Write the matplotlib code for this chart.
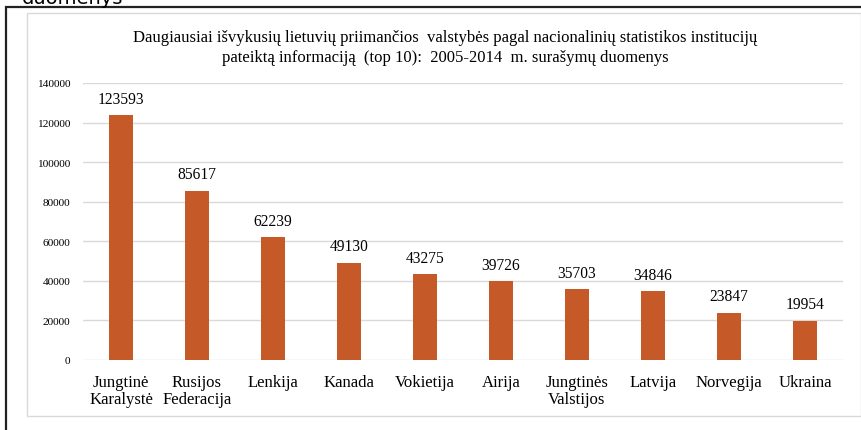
import matplotlib.pyplot as plt
from matplotlib.patches import Rectangle

# data
countries = ['Jungtinė\nKaralystė', 'Rusijos\nFederacija', 'Lenkija', 'Kanada', 'Vokietija',
             'Airija', 'Jungtinės\nValstijos', 'Latvija', 'Norvegija', 'Ukraina']
emigrants = [123593, 85617, 62239, 49130, 43275, 39726, 35703, 34846, 23847, 19954]
y_ticks = [0, 20000, 40000, 60000, 80000, 100000, 120000, 140000]

title = ('Daugiausiai išvykusių lietuvių priimančios  valstybės pagal nacionalinių statistikos institucijų\n'
         'pateiktą informaciją  (top 10):  2005-2014  m. surašymų duomenys')

bar_color = '#C55A28'
serif = 'Liberation Serif'

W, H = 862, 431
fig = plt.figure(figsize=(W / 100, H / 100), dpi=100)

# outer black frame (cut by the image edge) and inner grey chart box
fig.patches.append(Rectangle((6 / W, -0.1), 1.2, 1 - 8 / H + 0.1, transform=fig.transFigure,
                             fill=False, edgecolor='#222222', linewidth=1.6))
fig.patches.append(Rectangle((27 / W, 1 - 417 / H), (861 - 27) / W, (417 - 14) / H,
                             transform=fig.transFigure, fill=False, edgecolor='#D9D9D9', linewidth=1.0))

# cropped caption text from above the chart
fig.text(22 / W, 1 - 4 / H, 'duomenys', fontsize=14, family='DejaVu Sans', va='baseline', ha='left')

ax = fig.add_axes([83 / W, 1 - 361 / H, 760 / W, 277 / H])
x = range(len(countries))
bars = ax.bar(x, emigrants, width=0.32, color=bar_color, zorder=3)

for xi, v in zip(x, emigrants):
    ax.annotate(str(v), (xi, v), xytext=(0, 6), textcoords='offset points',
                ha='center', va='bottom', fontsize=11.2, family=serif)

ax.set_xlim(-0.5, len(countries) - 0.5)
ax.set_ylim(0, 140000)
ax.set_yticks(y_ticks)
ax.set_yticklabels([str(t) for t in y_ticks], fontsize=8.2, family=serif)
ax.set_xticks(list(x))
ax.set_xticklabels(countries, fontsize=12, family=serif, linespacing=1.12)
ax.tick_params(axis='both', length=0)
ax.tick_params(axis='y', pad=9)
ax.tick_params(axis='x', pad=10)
ax.grid(axis='y', color='#D9D9D9', linewidth=1.0, zorder=0)
for s in ax.spines.values():
    s.set_visible(False)

fig.text(445 / W, 1 - 48 / H, title, ha='center', va='center', fontsize=12, family=serif,
         linespacing=1.3)

fig.savefig('out.png', dpi=100)
